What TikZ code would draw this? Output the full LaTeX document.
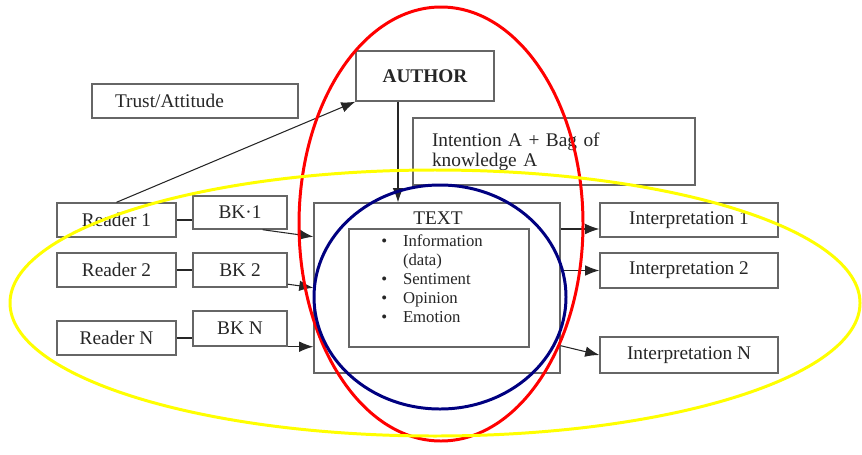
\documentclass[tikz,border=0pt]{standalone}
\usepackage{fontspec}
\setmainfont{Liberation Serif}
\usetikzlibrary{arrows.meta, positioning}
\definecolor{ringblue}{RGB}{0,0,128}
\definecolor{ringyellow}{RGB}{255,255,0}

\begin{document}
\begin{tikzpicture}[
  blk/.style={draw=black!60, line width=0.8pt, fill=white, text=black!85, inner sep=0pt,
    minimum height=0.68cm, font=\fontsize{11}{12.5}\selectfont},
  arr/.style={-{Latex[length=8pt,width=6pt]}, black!85, line width=0.6pt},
  lnk/.style={black!85, line width=0.6pt},
  ring/.style={line width=1.7pt}
]
  \useasboundingbox (0,0) rectangle (17.24,9.08);

  % Author and intention
  \node[blk, minimum width=4.12cm, text width=3.2cm, align=left] (trust) at (3.90,7.06) {Trust/Attitude};
  \node[blk, minimum width=2.76cm, minimum height=1.00cm, font=\fontsize{11}{12.5}\selectfont\bfseries] (author) at (8.50,7.56) {AUTHOR};
  \node[blk, minimum width=5.64cm, minimum height=1.34cm, text width=4.88cm, align=left,
    font=\fontsize{11}{11.6}\selectfont] (intent) at (11.08,6.05) {Intention A + Bag of\\knowledge A\\[5pt]};

  % Readers and background knowledge
  \node[blk, minimum width=2.38cm] (r1) at (2.33,4.68) {Reader 1};
  \node[blk, minimum width=2.38cm] (r2) at (2.33,3.68) {Reader 2};
  \node[blk, minimum width=2.38cm] (rN) at (2.33,2.32) {Reader N};
  \node[blk, minimum width=1.88cm, minimum height=0.66cm] (bk1) at (4.80,4.83) {BK·1};
  \node[blk, minimum width=1.88cm] (bk2) at (4.80,3.68) {BK 2};
  \node[blk, minimum width=1.88cm, minimum height=0.70cm] (bkN) at (4.80,2.51) {BK N};

  % Text
  \node[blk, minimum width=4.92cm, minimum height=3.40cm] (txt) at (8.74,3.32) {};
  \node[blk, minimum width=3.60cm, minimum height=2.36cm] (inner) at (8.78,3.32) {};
  \node[text=black!85, font=\fontsize{11}{12.5}\selectfont] (txtlbl) at (8.76,4.72) {TEXT};
  \node[anchor=north west, inner sep=0pt, text=black!85, font=\fontsize{9.5}{10.8}\selectfont] (facets) at (7.62,4.42) {%
    \begin{tabular}{@{}l@{\hspace{9pt}}l@{}}
      \textbullet & Information\\
                  & (data)\\
      \textbullet & Sentiment\\
      \textbullet & Opinion\\
      \textbullet & Emotion
    \end{tabular}};

  % Interpretations
  \node[blk, minimum width=3.56cm] (i1) at (13.78,4.68) {Interpretation 1};
  \node[blk, minimum width=3.56cm, minimum height=0.70cm] (i2) at (13.78,3.67) {Interpretation 2};
  \node[blk, minimum width=3.56cm, minimum height=0.72cm] (iN) at (13.78,1.98) {Interpretation N};

  \draw[arr] (r1.north) -- (author.south west);
  \draw[arr] ([xshift=-0.54cm]author.south) -- ([xshift=-0.54cm]author.south |- txt.north);

  \draw[lnk] (r1.east) -- (r1.east -| bk1.west);
  \draw[lnk] (r2.east) -- (bk2.west);
  \draw[lnk] (rN.east) -- (rN.east -| bkN.west);
  \draw[arr] ([xshift=-0.5cm]bk1.south east) -- ([yshift=-0.14cm]txt.west |- bk1.south east);
  \draw[arr] ([yshift=2pt]bk2.south east) -- (txt.west |- bk2.south east);
  \draw[arr] (bkN.south east) -- (txt.west |- bkN.south east);

  \coordinate (o1) at ([yshift=-0.18cm]i1.west);
  \draw[arr] (txt.east |- o1) -- (o1);
  \draw[arr] (txt.east |- i2.west) -- (i2.west);
  \draw[arr] ([yshift=0.56cm]txt.south east) -- (iN.west);

  % Rings
  \draw[ring, red] (8.82,4.60) ellipse [x radius=2.84, y radius=4.34];
  \draw[ring, ringblue] (8.80,3.14) ellipse [x radius=2.52, y radius=2.24];
  \draw[ring, ringyellow] (8.70,3.02) ellipse [x radius=8.50, y radius=2.66];
\end{tikzpicture}
\end{document}
